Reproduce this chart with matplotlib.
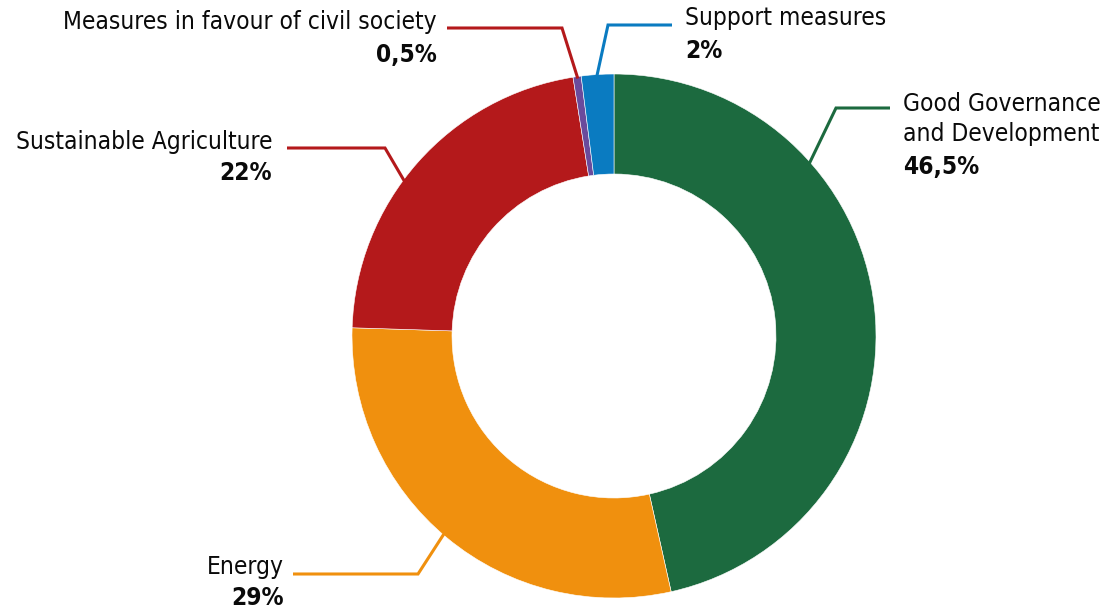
import numpy as np
import matplotlib
matplotlib.use("Agg")
import matplotlib.pyplot as plt

# slices, clockwise from 12 o'clock
labels = ["Good Governance\nand Development", "Energy", "Sustainable Agriculture",
          "Measures in favour of civil society", "Support measures"]
shares = [46.5, 29, 22, 0.5, 2]
pct_text = ["46,5%", "29%", "22%", "0,5%", "2%"]
colors = ["#1c6a3f", "#f0900e", "#b4191b", "#6a4b9c", "#0a7bc1"]
line_colors = ["#1c6a3f", "#f0900e", "#b4191b", "#b4191b", "#0a7bc1"]

plt.rcParams['font.family'] = ['DejaVu Sans']
plt.rcParams['font.stretch'] = 'condensed'

W, H = 1109, 609
fig = plt.figure(figsize=(W / 100, H / 100), dpi=100)
ax = fig.add_axes([0, 0, 1, 1])

cx, cy, R = 614, 273, 262
ax.pie(shares, colors=colors, startangle=90, counterclock=False,
       center=(cx, cy), radius=R, frame=True,
       wedgeprops=dict(width=100, edgecolor='white', linewidth=0.4))
ax.set_xlim(0, W)
ax.set_ylim(0, H)
ax.set_aspect('auto')
ax.axis('off')

# leader layout: angle on the ring, elbow point, end of horizontal run
anchor_ang = [41.4, 229.3, 143.6, 98.0, 93.8]
elbows = [(836, 501), (418, 35), (385, 461), (562, 581), (608, 584)]
ends = [890, 293, 287, 447, 672]

for ang, (ex, ey), x2, c in zip(anchor_ang, elbows, ends, line_colors):
    a = np.deg2rad(ang)
    sx, sy = cx + (R - 2) * np.cos(a), cy + (R - 2) * np.sin(a)
    ax.plot([sx, ex, x2], [sy, ey, ey], color=c, lw=2.2,
            solid_joinstyle='miter', solid_capstyle='butt')

fs = 17.6
# text layout (x, y of name, y of percentage, alignment)
txt = [(903, 490, 442, 'left'), (284, 42, 11, 'right'),
       (272, 467, 436, 'right'), (437, 587, 554, 'right'),
       (685, 591, 558, 'left')]
for (tx, ny, py, ha), name, p in zip(txt, labels, pct_text):
    ax.text(tx, ny, name, ha=ha, va='center', fontsize=fs, color='#0a0a0a',
            linespacing=1.3)
    ax.text(tx, py, p, ha=ha, va='center', fontsize=fs, fontweight='bold',
            color='#0a0a0a')

fig.savefig("out.png", dpi=100)
